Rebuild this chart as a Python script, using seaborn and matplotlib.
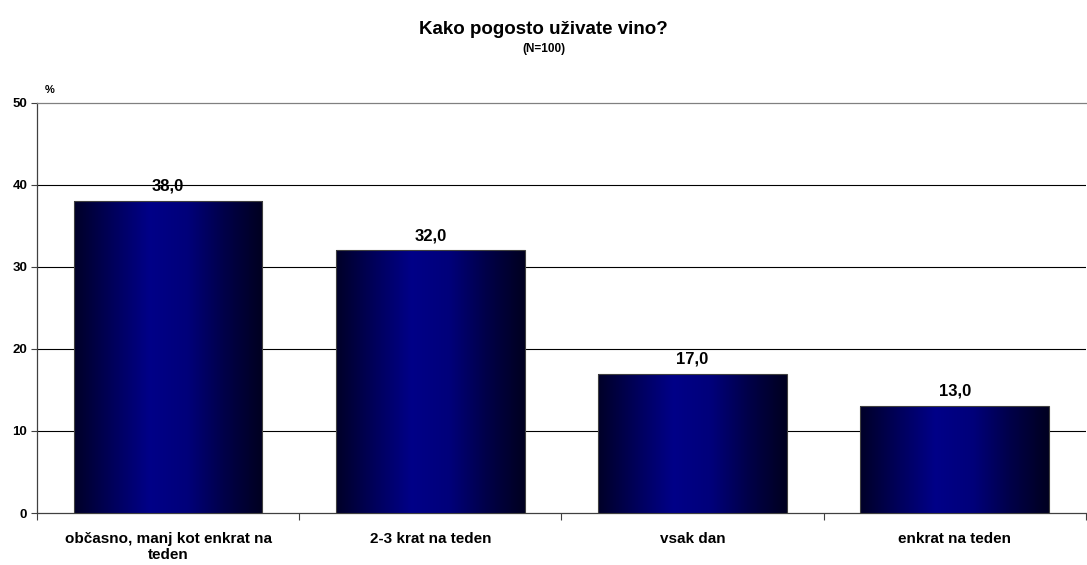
import numpy as np
import pandas as pd
import matplotlib
matplotlib.use("Agg")
import matplotlib.pyplot as plt
from matplotlib.colors import LinearSegmentedColormap
from matplotlib.ticker import FixedLocator
import seaborn as sns

categories = ["občasno, manj kot enkrat na\nteden", "2-3 krat na teden", "vsak dan", "enkrat na teden"]
values = [38.0, 32.0, 17.0, 13.0]
y_ticks = [0, 10, 20, 30, 40, 50]

sns.set_theme(style="white")
plt.rcParams["font.family"] = ["Liberation Sans", "DejaVu Sans"]
plt.rcParams["text.color"] = "black"
plt.rcParams["xtick.labelcolor"] = "black"
plt.rcParams["ytick.labelcolor"] = "black"

df = pd.DataFrame({"odgovor": categories, "odstotek": values})

fig = plt.figure(figsize=(10.87, 5.65), dpi=100)
ax = fig.add_axes([0.034, 0.092, 0.965, 0.726])

sns.barplot(data=df, x="odgovor", y="odstotek", ax=ax, width=0.72,
            color="#000080", edgecolor="#404040", linewidth=0.8, zorder=3)

# horizontal gradient inside each bar: dark edges, bright navy centre
cmap = LinearSegmentedColormap.from_list(
    "navy", ["#000028", "#00005a", "#000088", "#00007a", "#000048", "#000020"])
grad = np.linspace(0, 1, 256).reshape(1, -1)
for patch in ax.patches:
    x0, y0 = patch.get_x(), patch.get_y()
    w, h = patch.get_width(), patch.get_height()
    im = ax.imshow(grad, cmap=cmap, aspect="auto", extent=[x0, x0 + w, y0, y0 + h],
                   zorder=3.5, interpolation="bicubic")
    im.set_clip_path(patch)
    patch.set_facecolor("none")
    patch.set_zorder(4)
ax.set_xlim(-0.5, len(categories) - 0.5)
ax.set_ylim(0, 50)

for i, v in enumerate(values):
    ax.text(i, v + 0.9, f"{v:.1f}".replace(".", ","), ha="center", va="bottom",
            fontsize=12, fontweight="bold", color="black", zorder=5)

# gridlines
for t in y_ticks[1:-1]:
    ax.axhline(t, color="black", linewidth=0.8, zorder=1)

ax.yaxis.set_major_locator(FixedLocator(y_ticks))
ax.set_yticklabels([str(t) for t in y_ticks], fontsize=9.5, fontweight="bold")
ax.set_xticks(range(len(categories)))
ax.set_xticklabels(categories, fontsize=11, fontweight="bold", linespacing=1.15)
ax.tick_params(axis="x", length=0, pad=14)
ax.tick_params(axis="y", left=True, length=4, width=0.8, color="#404040", pad=3)

# category boundary tick marks on x axis
ax.set_xticks(np.arange(-0.5, len(categories), 1.0), minor=True)
ax.tick_params(axis="x", which="minor", bottom=True, length=5, width=0.8, color="#404040")

for side in ["left", "bottom"]:
    ax.spines[side].set_color("#404040")
    ax.spines[side].set_linewidth(0.9)
ax.spines["top"].set_color("#808080")
ax.spines["top"].set_linewidth(0.9)
ax.spines["right"].set_visible(False)

ax.set_xlabel("")
ax.set_ylabel("")

fig.text(0.5, 0.948, "Kako pogosto uživate vino?", ha="center", va="center",
         fontsize=13.5, fontweight="bold")
fig.text(0.5, 0.914, "(N=100)", ha="center", va="center", fontsize=8.5, fontweight="bold")
ax.text(0.012, 1.018, "%", transform=ax.transAxes, ha="center", va="bottom",
        fontsize=8, fontweight="bold")

fig.savefig("out.png", dpi=100, facecolor="white")
